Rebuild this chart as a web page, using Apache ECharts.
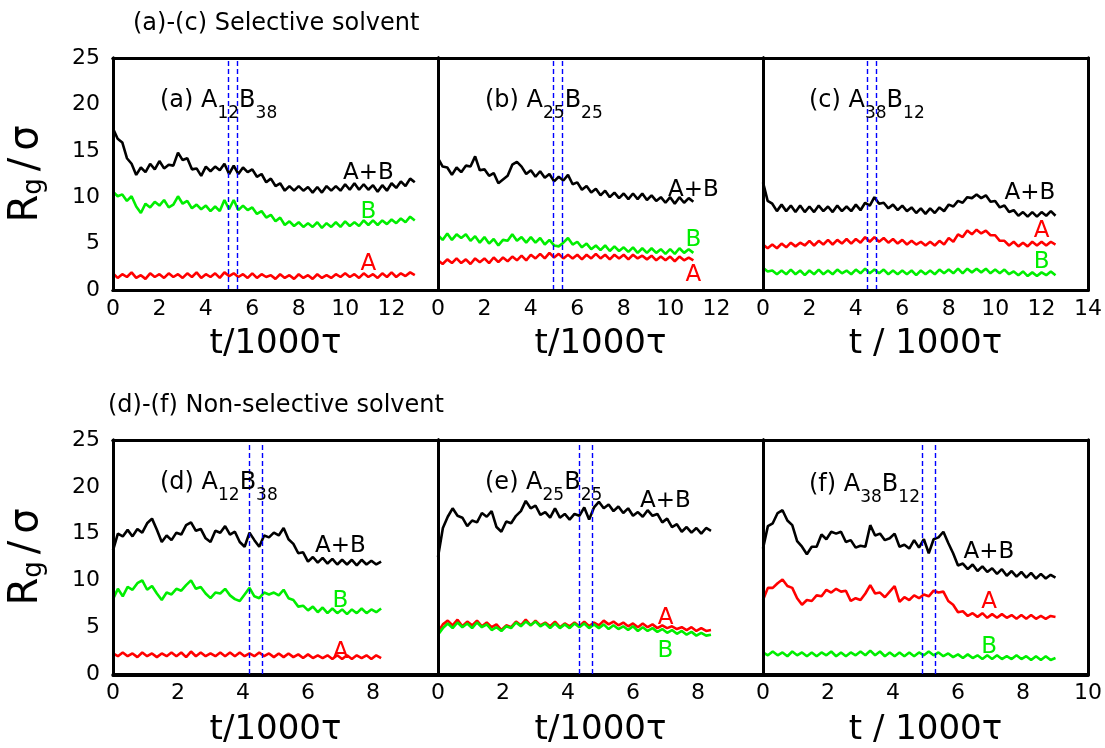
<!DOCTYPE html>
<html><head><meta charset="utf-8">
<script src="https://cdn.jsdelivr.net/npm/echarts/dist/echarts.min.js"></script>
<style>html,body{margin:0;padding:0;background:#fff}#wrap{position:relative;width:1105px;height:748px}.layer{position:absolute;left:0;top:0;width:1105px;height:748px}.over{pointer-events:none}</style>
</head><body><div id="wrap"><div id="c" class="layer"></div></div>
<script>
// ---------- sampling steps (t / 1000 tau) ----------
const stepTop = 0.2;
const stepBottom = 0.15;

// ---------- (a) A12B38, selective ----------
const aAB = [17.4,16.3,15.9,14.2,13.6,12.4,13.2,12.7,13.6,13.0, 13.9,13.1,13.5,13.4,14.8,14.0,14.2,13.0,13.1,12.3, 13.3,12.8,13.3,12.9,13.6,12.5,13.4,12.5,13.2,12.7, 13.0,12.2,12.5,11.6,12.0,11.2,11.5,10.7,11.2,10.7, 11.2,10.7,11.1,10.5,11.1,10.5,11.2,10.7,11.2,10.7, 11.4,10.8,11.5,10.8,11.4,10.8,11.3,10.6,11.3,10.7, 11.5,11.0,11.7,11.2,12.0,11.6];
const aB  = [10.6,10.1,10.3,9.6,10.1,9.0,8.3,9.3,8.9,9.5, 9.1,9.7,8.9,9.2,10.1,9.3,9.6,8.8,9.2,8.7, 9.1,8.5,9.0,8.5,9.7,8.7,9.7,8.6,9.1,8.6, 8.9,8.2,8.5,7.8,8.1,7.4,7.8,7.0,7.4,6.9, 7.3,6.8,7.2,6.8,7.3,6.7,7.2,6.8,7.3,6.8, 7.4,6.9,7.3,6.9,7.5,7.0,7.5,7.0,7.5,7.1, 7.6,7.2,7.7,7.3,7.9,7.5];
const aA  = [1.8,1.3,1.7,1.4,1.9,1.3,1.6,1.2,1.8,1.4, 1.7,1.3,1.8,1.4,1.7,1.3,1.8,1.4,1.9,1.3, 1.7,1.4,1.8,1.3,1.9,1.5,1.8,1.4,1.7,1.3, 1.8,1.3,1.7,1.4,1.6,1.2,1.7,1.3,1.6,1.2, 1.7,1.3,1.6,1.2,1.7,1.3,1.6,1.3,1.7,1.4, 1.8,1.4,1.7,1.3,1.8,1.4,1.7,1.3,1.8,1.4, 1.9,1.4,1.8,1.5,1.9,1.6];

// ---------- (b) A25B25, selective ----------
const bAB = [14.2,13.3,13.2,12.4,13.2,12.7,13.4,13.3,14.4,12.9, 13.0,12.3,12.6,11.5,11.9,12.3,13.5,13.8,13.3,12.5, 12.9,12.2,12.8,12.1,12.5,11.7,12.2,11.8,12.4,11.4, 11.6,10.8,11.2,10.5,10.9,10.2,10.7,10.0,10.5,9.9, 10.4,9.8,10.4,9.8,10.4,9.7,10.2,9.6,10.0,9.4, 10.0,9.3,10.0,9.4,9.9,9.5];
const bB  = [5.9,5.4,6.1,5.4,6.0,5.6,6.0,5.3,5.8,5.1, 5.7,5.0,5.5,4.8,5.4,5.3,6.0,5.3,5.7,5.1, 5.7,5.1,5.6,4.9,5.4,4.8,4.7,5.1,5.6,4.9, 5.2,4.6,5.0,4.4,4.8,4.3,4.8,4.2,4.7,4.2, 4.6,4.1,4.6,4.0,4.5,4.0,4.5,4.0,4.4,3.9, 4.4,3.9,4.5,4.0,4.4,4.0];
const bA  = [3.2,2.8,3.3,2.9,3.4,2.9,3.3,2.8,3.4,3.0, 3.4,2.9,3.5,3.0,3.5,3.1,3.6,3.2,3.7,3.2, 3.8,3.4,3.9,3.4,4.0,3.5,3.9,3.4,3.8,3.4, 3.8,3.3,3.8,3.4,3.9,3.4,3.8,3.3,3.8,3.4, 3.8,3.3,3.8,3.4,3.7,3.3,3.7,3.2,3.6,3.2, 3.6,3.1,3.6,3.2,3.5,3.2];

// ---------- (c) A38B12, selective ----------
const cAB = [11.6,9.6,9.3,8.5,9.2,8.5,9.1,8.4,9.1,8.4, 9.0,8.4,9.1,8.5,9.0,8.4,9.1,8.5,9.0,8.5, 9.2,8.6,9.4,9.1,10.0,9.3,9.4,8.8,9.2,8.6, 9.1,8.5,8.9,8.3,8.8,8.2,8.8,8.3,8.9,8.5, 9.2,9.0,9.6,9.4,10.0,9.9,10.3,9.9,10.2,9.5, 9.6,8.9,9.1,8.4,8.6,8.0,8.4,7.9,8.4,7.9, 8.4,8.0,8.5,8.0];
const cA  = [4.9,4.5,4.9,4.5,5.0,4.6,5.1,4.7,5.1,4.8, 5.3,4.8,5.3,4.9,5.4,4.9,5.4,5.0,5.5,5.0, 5.5,5.1,5.7,5.2,5.7,5.2,5.6,5.1,5.5,5.0, 5.4,4.9,5.3,4.9,5.2,4.8,5.2,4.8,5.3,4.9, 5.6,5.2,6.0,5.7,6.4,6.0,6.5,6.1,6.4,5.9, 5.9,5.3,5.3,4.8,5.2,4.7,5.1,4.7,5.2,4.8, 5.2,4.8,5.2,4.9];
const cB  = [2.4,2.0,2.1,1.7,2.1,1.7,2.2,1.7,2.1,1.6, 2.1,1.7,2.2,1.7,2.1,1.7,2.2,1.8,2.1,1.7, 2.2,1.8,2.3,1.8,2.2,1.8,2.2,1.7,2.1,1.7, 2.1,1.7,2.1,1.6,2.1,1.7,2.1,1.7,2.2,1.8, 2.2,1.8,2.3,1.8,2.3,1.9,2.3,1.9,2.3,1.8, 2.2,1.8,2.2,1.7,2.0,1.6,2.0,1.5,1.9,1.5, 1.9,1.6,2.0,1.6];

// ---------- (d) A12B38, non-selective ----------
const dAB = [13.2,15.0,14.7,15.4,14.7,15.5,15.1,16.1,16.6,15.4, 14.1,14.8,14.3,15.1,14.9,15.9,16.2,15.3,15.5,14.5, 14.1,15.3,15.1,15.8,14.9,15.2,14.1,13.6,15.1,14.3, 13.6,14.8,14.6,15.1,14.8,15.6,14.4,13.9,12.9,13.0, 12.0,12.5,11.9,12.4,11.8,12.3,11.7,12.2,11.7,12.2, 11.6,12.2,11.7,12.1,11.7,12.0];
const dB  = [8.0,9.1,8.3,9.3,9.0,9.7,10.0,9.0,9.4,8.6, 7.9,8.7,8.5,9.1,8.9,9.5,10.0,9.1,9.3,8.6, 8.1,8.7,8.6,9.1,8.4,8.0,7.8,8.5,9.2,8.3, 8.1,8.7,8.5,8.7,8.4,9.0,8.1,7.9,7.2,7.3, 6.8,7.2,6.6,7.1,6.5,7.0,6.5,6.9,6.4,6.9, 6.5,7.0,6.5,6.9,6.6,7.0];
const dA  = [2.2,1.9,2.3,1.9,2.2,1.8,2.3,1.9,2.2,1.8, 2.2,1.9,2.3,1.9,2.3,1.8,2.4,1.9,2.3,1.9, 2.2,1.9,2.3,1.9,2.3,1.9,2.3,1.9,2.2,1.9, 2.3,1.9,2.2,1.8,2.2,1.8,2.2,1.8,2.1,1.7, 2.1,1.7,2.0,1.7,2.0,1.6,2.0,1.6,2.0,1.6, 2.0,1.7,2.0,1.6,2.0,1.7];

// ---------- (e) A25B25, non-selective ----------
const eAB = [12.5,15.6,16.8,17.7,16.9,16.7,15.8,16.4,16.2,17.2, 16.8,17.4,15.7,15.2,16.3,16.1,16.9,17.4,18.5,17.7, 18.0,17.0,17.3,16.7,17.7,16.7,17.1,16.5,17.1,16.9, 17.8,16.5,17.8,18.4,17.7,18.1,17.4,17.9,17.2,17.7, 16.9,17.3,16.8,17.5,16.9,17.1,16.2,16.6,15.7,16.0, 15.2,15.7,15.1,15.6,15.0,15.6,15.3];
const eA  = [4.5,5.3,5.7,5.2,5.8,5.1,5.6,5.2,5.7,5.1, 5.5,5.0,5.3,4.7,5.2,5.0,5.6,5.2,5.8,5.2, 5.7,5.2,5.5,5.1,5.6,5.0,5.4,5.1,5.5,5.1, 5.6,5.1,5.5,5.2,5.7,5.3,5.6,5.2,5.5,5.1, 5.4,5.0,5.4,5.0,5.3,4.9,5.2,4.9,5.1,4.8, 5.0,4.7,5.0,4.6,4.9,4.6,4.7];
const eB  = [4.2,4.9,5.4,4.9,5.5,5.0,5.4,4.9,5.5,5.0, 5.3,4.7,5.0,4.6,5.1,4.9,5.5,5.1,5.6,5.2, 5.6,5.1,5.4,4.9,5.4,4.9,5.3,4.9,5.4,5.0, 5.4,4.9,5.3,4.9,5.3,4.8,5.2,4.8,5.1,4.7, 5.1,4.6,5.0,4.6,4.9,4.5,4.8,4.4,4.7,4.3, 4.6,4.2,4.5,4.1,4.4,4.1,4.2];

// ---------- (f) A38B12, non-selective ----------
const fAB = [13.4,15.8,16.1,17.2,17.5,16.4,15.9,14.2,13.6,12.8, 13.6,13.6,14.9,14.4,15.2,15.0,15.2,14.1,14.3,13.5, 13.7,13.6,15.9,14.8,15.0,14.3,14.5,15.0,13.6,13.8, 13.4,14.3,13.5,14.4,12.9,14.4,14.6,15.2,14.0,12.9, 11.6,11.8,11.2,11.7,11.0,11.5,10.9,11.3,10.7,11.2, 10.5,11.0,10.4,10.9,10.3,10.8,10.2,10.7,10.2,10.6, 10.3];
const fA  = [7.9,9.2,9.2,9.7,10.1,9.4,9.2,8.1,7.4,7.9, 7.8,8.4,8.3,9.0,8.7,9.1,8.8,8.9,7.8,8.1, 7.9,8.6,9.5,8.6,8.7,8.2,8.8,9.4,7.7,8.2, 7.9,8.4,8.1,8.5,8.3,8.9,8.7,8.8,7.8,7.4, 6.6,6.7,6.2,6.5,6.1,6.5,6.0,6.4,6.0,6.4, 6.0,6.3,5.9,6.3,5.9,6.3,5.9,6.2,5.9,6.2, 6.1];
const fB  = [2.3,2.0,2.4,2.0,2.3,1.9,2.4,2.0,2.3,1.9, 2.3,1.9,2.3,2.0,2.4,1.9,2.3,1.9,2.3,2.0, 2.4,2.0,2.5,2.0,2.4,1.9,2.3,1.9,2.3,1.9, 2.3,1.9,2.3,2.0,2.4,2.0,2.3,1.9,2.2,1.8, 2.1,1.7,2.1,1.7,2.0,1.6,2.0,1.6,2.0,1.6, 1.9,1.6,2.0,1.6,1.9,1.5,1.9,1.5,1.9,1.5, 1.7];

// ---------- dashed marker times ----------
const dashTimes = [[4.95,5.35],[4.95,5.35],[4.47,4.87],[4.2,4.6],[4.36,4.75],[4.91,5.31]];

// ---------- text ----------
const panelTitles = ['(a) A{s|12}B{s|38}','(b) A{s|25}B{s|25}','(c) A{s|38}B{s|12}','(d) A{s|12}B{s|38}','(e) A{s|25}B{s|25}','(f) A{s|38}B{s|12}'];
const xNames = ['t/1000τ','t/1000τ','t / 1000τ','t/1000τ','t/1000τ','t / 1000τ'];
const yName = '{r|R}{g|g}{sp| }{r|/}{sp| }{r|σ}';
const headerTop = '(a)-(c) Selective solvent';
const headerBottom = '(d)-(f) Non-selective solvent';
const xMaxTop = 14, xMaxBottom = 10, yMax = 25;
const xStep = 2, yStep = 5;

// ---------- layout ----------
const FONT = 'DejaVu Sans';
const grids = [
  {left:113, top:58, width:325, height:232},
  {left:438, top:58, width:325, height:232},
  {left:763, top:58, width:325, height:232},
  {left:113, top:440, width:325, height:235},
  {left:438, top:440, width:325, height:235},
  {left:763, top:440, width:325, height:235}
];
const titlePos = [[160,80],[485,80],[809,80],[160,462],[485,462],[809,464]];
const labAB = [[11.0,12.6],[11.0,10.8],[11.5,10.4],[7.0,13.65],[7.0,18.5],[6.95,13.0]];
const labA  = [[11.0,2.8],[11.0,1.6],[12.0,6.4],[7.0,2.4],[7.0,6.0],[6.96,7.66]];
const labB  = [[11.0,8.35],[11.0,5.4],[12.0,3.0],[7.0,7.8],[7.0,2.45],[6.96,2.9]];

const panels = [
  {ab:aAB, a:aA, b:aB, step:stepTop, xmax:xMaxTop, showMax:false},
  {ab:bAB, a:bA, b:bB, step:stepTop, xmax:xMaxTop, showMax:false},
  {ab:cAB, a:cA, b:cB, step:stepTop, xmax:xMaxTop, showMax:true},
  {ab:dAB, a:dA, b:dB, step:stepBottom, xmax:xMaxBottom, showMax:false},
  {ab:eAB, a:eA, b:eB, step:stepBottom, xmax:xMaxBottom, showMax:false},
  {ab:fAB, a:fA, b:fB, step:stepBottom, xmax:xMaxBottom, showMax:true}
];

function stage(fn){ try { fn(); } catch(e){ /* keep rendering the rest */ } }
function pairs(vals, step){ return vals.map((v,i)=>[Math.round(i*step*100)/100, v]); }
const GREEN = '#00ee00', RED = '#ff0000';
function lineCfg(){ return {show:true, onZero:false, lineStyle:{color:'#000', width:3}}; }
function tickCfg(len, inside){ return {show:true, inside:inside, length:len, lineStyle:{color:'#000', width:3}}; }
function minorCfg(len){ return {show:true, splitNumber:2, length:len, lineStyle:{color:'#000', width:3}}; }

// ================= main chart: frame, data, labels, text =================
const chart = echarts.init(document.getElementById('c'), null, {renderer:'canvas'});
stage(()=>{
  const option = {animation:false, backgroundColor:'#fff', textStyle:{fontFamily:FONT},
    grid: grids.map(g=>Object.assign({}, g, {show:false, containLabel:false})),
    xAxis:[], yAxis:[], series:[]};
  panels.forEach((p,i)=>{
    const top = i < 3;
    option.xAxis.push({gridIndex:i, type:'value', position:'bottom', min:0, max:p.xmax, interval:xStep,
      axisLine:lineCfg(), splitLine:{show:false}, axisTick:{show:false}, minorTick:{show:false},
      axisLabel:{show:true, margin:8, fontSize:22, color:'#000', fontFamily:FONT,
        formatter:(v)=> (v===p.xmax && !p.showMax) ? '' : String(v)},
      name:xNames[i], nameLocation:'middle', nameGap: top?37:39,
      nameTextStyle:{fontSize:34, color:'#000', fontFamily:FONT}});
    option.xAxis.push({gridIndex:i, type:'value', position:'top', min:0, max:p.xmax, interval:xStep,
      axisLine:lineCfg(), splitLine:{show:false}, axisTick:{show:false}, minorTick:{show:false},
      axisLabel:{show:false}});
    const left = (i % 3 === 0);
    option.yAxis.push({gridIndex:i, type:'value', position:'left', min:0, max:yMax, interval:yStep,
      axisLine:lineCfg(), splitLine:{show:false}, axisTick:{show:false}, minorTick:{show:false},
      axisLabel:{show:left, margin:13, fontSize:22, color:'#000', fontFamily:FONT},
      name: left ? yName : '', nameLocation:'middle', nameGap:62,
      nameTextStyle:{fontSize:40, color:'#000', fontFamily:FONT, lineHeight:48,
        rich:{r:{fontSize:40, lineHeight:48, fontFamily:FONT, color:'#000'},
              sp:{fontSize:22, lineHeight:48, fontFamily:FONT, color:'#000'},
              g:{fontSize:26, lineHeight:26, verticalAlign:'bottom', padding:[0,0,4,0], fontFamily:FONT, color:'#000'}}}});
    option.yAxis.push({gridIndex:i, type:'value', position:'right', min:0, max:yMax, interval:yStep,
      axisLine:lineCfg(), splitLine:{show:false}, axisTick:{show:false}, minorTick:{show:false},
      axisLabel:{show:false}});
    const xi = 2*i, yi = 2*i;
    [[p.ab,'#000'],[p.a,RED],[p.b,GREEN]].forEach(([vals,col])=>{
      option.series.push({type:'line', xAxisIndex:xi, yAxisIndex:yi, data:pairs(vals,p.step),
        symbol:'none', showSymbol:false, lineStyle:{color:col, width:2.6}, itemStyle:{color:col}});
    });
  });
  chart.setOption(option);
});
stage(()=>{
  const upd = [];
  panels.forEach((p,i)=>{
    upd.push({markLine:{silent:true, symbol:['none','none'], label:{show:false},
      lineStyle:{type:[5,3], color:'#0000ff', width:1.4}, data:dashTimes[i].map(t=>({xAxis:t}))}});
    upd.push({}); upd.push({});
  });
  chart.setOption({series:upd});
});
stage(()=>{
  const upd = [];
  function mp(pos, text, color){
    return {markPoint:{silent:true, symbol:'circle', symbolSize:1, itemStyle:{color:'rgba(0,0,0,0)'},
      label:{show:true, position:'inside', formatter:text, color:color, fontSize:23, fontFamily:FONT},
      data:[{coord:pos}]}};
  }
  panels.forEach((p,i)=>{
    upd.push(mp(labAB[i],'A+B','#000')); upd.push(mp(labA[i],'A',RED)); upd.push(mp(labB[i],'B',GREEN));
  });
  chart.setOption({series:upd});
});
stage(()=>{
  const t = [
    {text:headerTop, left:133, top:12, padding:0, textStyle:{fontSize:24, fontWeight:'normal', color:'#000', fontFamily:FONT}},
    {text:headerBottom, left:108, top:394, padding:0, textStyle:{fontSize:24, fontWeight:'normal', color:'#000', fontFamily:FONT}}
  ];
  panels.forEach((p,i)=>{
    t.push({text:panelTitles[i], left:titlePos[i][0], top:titlePos[i][1], padding:0,
      textStyle:{fontSize:24, fontWeight:'normal', color:'#000', fontFamily:FONT, lineHeight:42,
        rich:{s:{fontSize:17, lineHeight:17, verticalAlign:'bottom', fontFamily:FONT, color:'#000'}}}});
  });
  chart.setOption({title:t});
});

// ================= tick layers: one small transparent chart per panel =================
// Bottom/left axes only: the panel grid carries inward ticks; a thin strip grid above the
// panel and one to its right carry outward ticks that point into the panel.
panels.forEach((p,i)=>{
  stage(()=>{
    const div = document.createElement('div');
    div.className = 'layer over';
    document.getElementById('wrap').appendChild(div);
    const tc = echarts.init(div, null, {renderer:'canvas'});
    const g = grids[i], top = i < 3;
    tc.setOption({
      animation:false, backgroundColor:'transparent',
      grid:[
        {left:g.left, top:g.top, width:g.width, height:g.height, show:false, containLabel:false},
        {left:g.left, top:g.top-20, width:g.width, height:20, show:false, containLabel:false},
        {left:g.left+g.width, top:g.top, width:20, height:g.height, show:false, containLabel:false}
      ],
      xAxis:[
        {gridIndex:0, type:'value', position:'bottom', min:0, max:p.xmax, interval:xStep,
          axisLine:lineCfg(), splitLine:{show:false}, axisTick:tickCfg(19,true), minorTick:minorCfg(8), axisLabel:{show:false}},
        {gridIndex:1, type:'value', position:'bottom', min:0, max:p.xmax, interval:xStep,
          axisLine:lineCfg(), splitLine:{show:false}, axisTick:tickCfg(top?13:18,false), minorTick:minorCfg(7), axisLabel:{show:false}},
        {gridIndex:2, type:'value', position:'bottom', min:0, max:1, show:false}
      ],
      yAxis:[
        {gridIndex:0, type:'value', position:'left', min:0, max:yMax, interval:yStep,
          axisLine:lineCfg(), splitLine:{show:false}, axisTick:tickCfg(19,true), minorTick:minorCfg(8), axisLabel:{show:false}},
        {gridIndex:1, type:'value', position:'left', min:0, max:1, show:false},
        {gridIndex:2, type:'value', position:'left', min:0, max:yMax, interval:yStep,
          axisLine:lineCfg(), splitLine:{show:false}, axisTick:tickCfg(19,false), minorTick:minorCfg(8), axisLabel:{show:false}}
      ],
      series:[{type:'line', xAxisIndex:0, yAxisIndex:0, data:pairs(p.ab,p.step), symbol:'none', showSymbol:false,
        silent:true, lineStyle:{opacity:0}, itemStyle:{opacity:0}}]
    });
  });
});
</script>
</body></html>
